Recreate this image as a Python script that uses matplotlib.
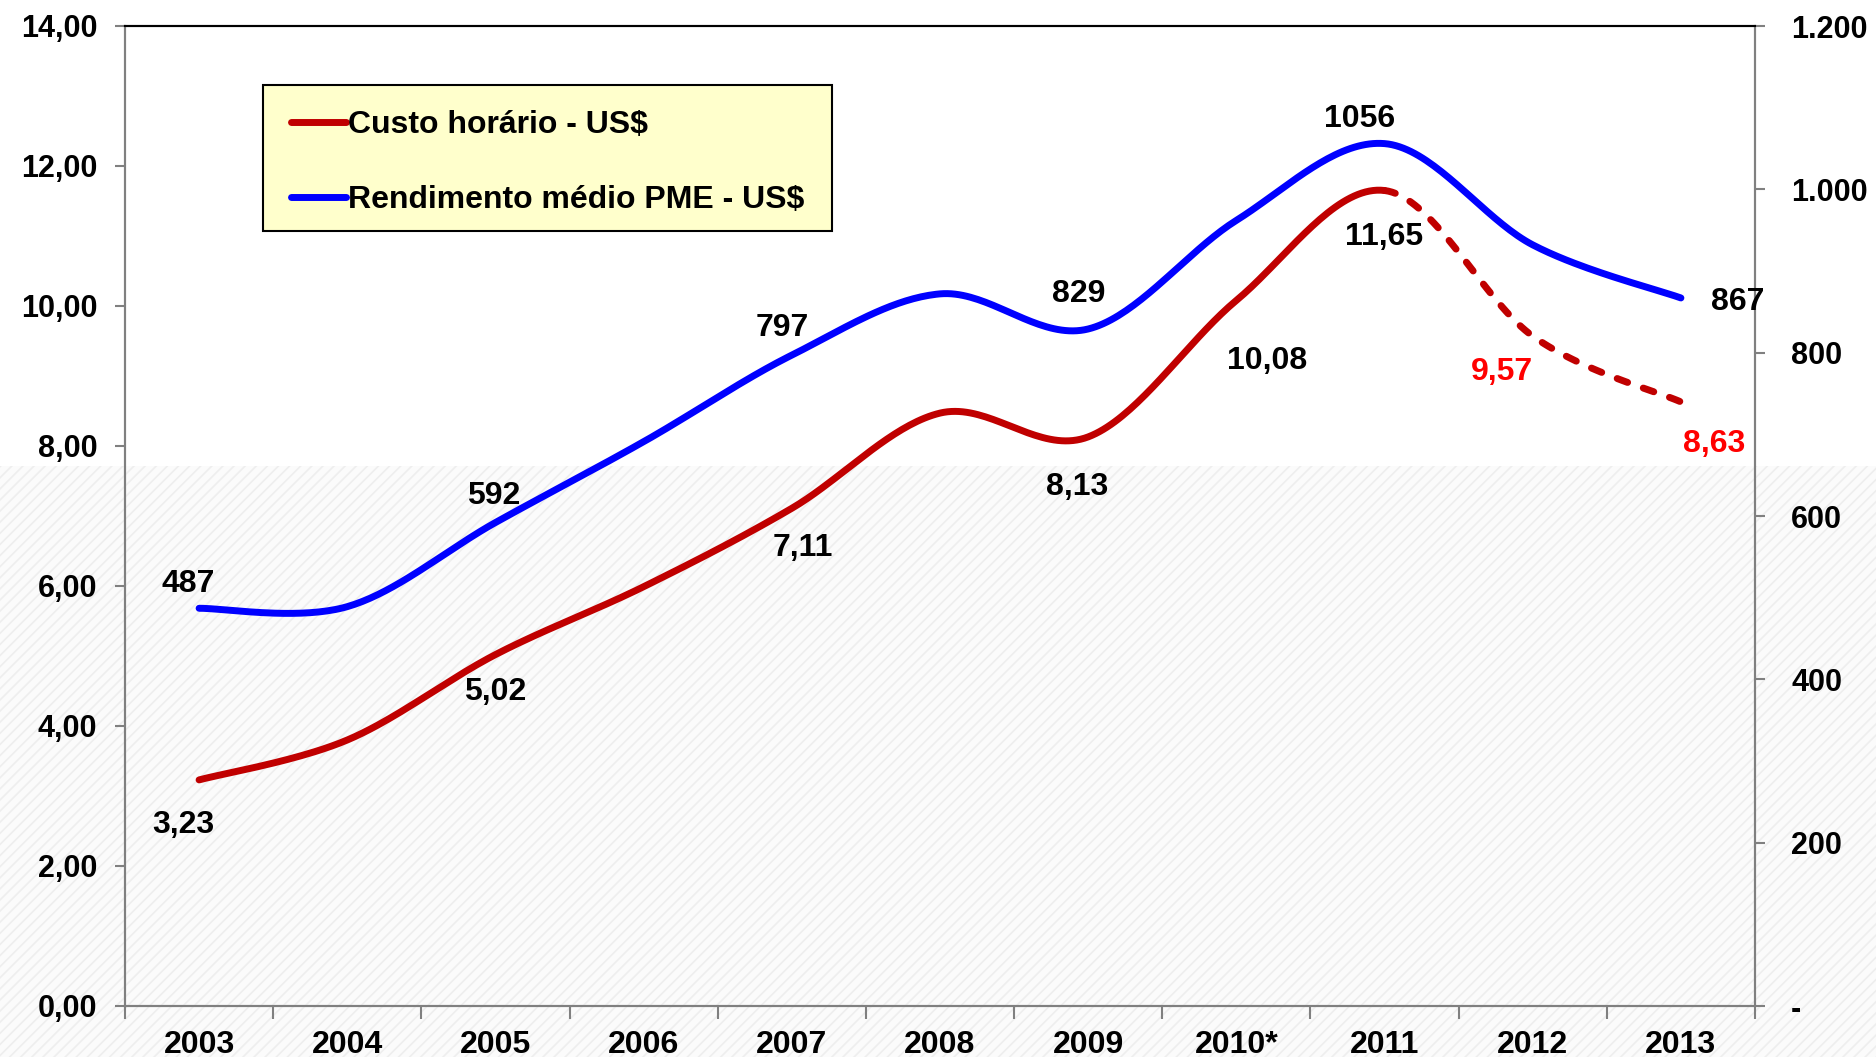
import numpy as np
import matplotlib
matplotlib.use('Agg')
import matplotlib.pyplot as plt
from matplotlib.patches import Rectangle
from matplotlib.lines import Line2D
from matplotlib.ticker import FixedLocator, NullFormatter

plt.rcParams['font.family'] = ['Liberation Sans', 'DejaVu Sans']
plt.rcParams['font.weight'] = 'bold'
plt.rcParams['hatch.linewidth'] = 1.2

# --- data ---
years = ['2003', '2004', '2005', '2006', '2007', '2008', '2009',
         '2010*', '2011', '2012', '2013']
custo_horario = [3.23, 3.80, 5.02, 5.99, 7.11, 8.47, 8.13, 10.08, 11.65, 9.57, 8.63]
rendimento_pme = [487, 489, 592, 691, 797, 872, 829, 962, 1056, 932, 867]

# which points carry a value label, and where (offset in px from the point)
custo_labels = {0: (-16, -45), 2: (0, -37), 4: (11, -40), 6: (-11, -50),
                7: (31, -61), 8: (0, -46), 9: (-31, -36), 10: (33, -42)}
custo_label_red = {9, 10}
rend_labels = {0: (-11, 24), 2: (-2, 27), 4: (-10, 27), 6: (-9, 35),
               8: (-25, 25), 10: (57, -4)}

RED = '#C00000'
BLUE = '#0000FF'
AXIS_GRAY = '#808080'


def smooth(xs, ys, n=40):
    """Bezier smoothing through every point (Excel-style smoothed line)."""
    pts = np.column_stack([xs, ys]).astype(float)
    p = np.vstack([pts[0], pts, pts[-1]])
    t = np.linspace(0, 1, n)[:, None]
    out = []
    for i in range(len(pts) - 1):
        p0, p1, p2, p3 = p[i], p[i + 1], p[i + 2], p[i + 3]
        c1 = p1 + (p2 - p0) / 6
        c2 = p2 - (p3 - p1) / 6
        seg = ((1 - t) ** 3) * p1 + 3 * ((1 - t) ** 2) * t * c1 \
            + 3 * (1 - t) * t ** 2 * c2 + t ** 3 * p2
        out.append(seg if i == 0 else seg[1:])
    return np.vstack(out), n


fig = plt.figure(figsize=(18.76, 10.57), dpi=100)
fig.patch.set_facecolor('white')

# faint diagonal texture on the lower part of the slide
bg = Rectangle((0, 0), 1, 1 - 466 / 1057, transform=fig.transFigure,
               facecolor='#fbfbfb', edgecolor='#eeeeee', hatch='///',
               linewidth=0, zorder=-5)
fig.patches.append(bg)

ax = fig.add_axes([125 / 1876, 1 - 1006 / 1057, 1630 / 1876, 980 / 1057])
ax.patch.set_alpha(0)
ax2 = ax.twinx()
ax2.patch.set_alpha(0)

x = np.arange(len(years))

# custo horario: solid up to 2011, dashed afterwards
curve, n = smooth(x, custo_horario)
split = 8 * (n - 1)
ax.plot(curve[:split + 1, 0], curve[:split + 1, 1], color=RED, lw=5,
        solid_capstyle='round', zorder=3)
ax.plot(curve[split:, 0], curve[split:, 1], color=RED, lw=5,
        dashes=(1.6, 2.4), dash_capstyle='round', zorder=3)

curve2, _ = smooth(x, rendimento_pme)
ax2.plot(curve2[:, 0], curve2[:, 1], color=BLUE, lw=5,
         solid_capstyle='round', zorder=3)

for i, (dx, dy) in custo_labels.items():
    ax.annotate(f'{custo_horario[i]:.2f}'.replace('.', ','),
                (x[i], custo_horario[i]), xytext=(dx, dy),
                textcoords='offset pixels', ha='center', va='center',
                fontsize=23, fontweight='bold',
                color='#FF0000' if i in custo_label_red else 'black')

for i, (dx, dy) in rend_labels.items():
    ax2.annotate(f'{rendimento_pme[i]}', (x[i], rendimento_pme[i]),
                 xytext=(dx, dy), textcoords='offset pixels',
                 ha='center', va='center', fontsize=23, fontweight='bold',
                 color='black')

# axes limits and ticks
ax.set_xlim(-0.5, len(years) - 0.5)
ax.set_ylim(0, 14)
ax2.set_ylim(0, 1200)

ax.set_yticks(np.arange(0, 15, 2))
ax.set_yticklabels([f'{v:.2f}'.replace('.', ',') for v in np.arange(0, 15, 2)])
ax2.set_yticks(np.arange(0, 1201, 200))
ax2.set_yticklabels(['-', '200', '400', '600', '800', '1.000', '1.200'])

ax.set_xticks(x)
ax.set_xticklabels(years)
ax.xaxis.set_minor_locator(FixedLocator(np.arange(-0.5, len(years), 1)))
ax.xaxis.set_minor_formatter(NullFormatter())
ax.tick_params(axis='x', which='major', length=0, pad=17, labelsize=23)
ax.tick_params(axis='x', which='minor', length=9, width=1.5,
               color=AXIS_GRAY, direction='out')
ax.tick_params(axis='y', length=7, width=1.5, color=AXIS_GRAY,
               direction='out', pad=13, labelsize=22)
ax2.tick_params(axis='y', length=7, width=1.5, color=AXIS_GRAY,
                direction='out', pad=19, labelsize=22)
for lab in ax.get_xticklabels() + ax.get_yticklabels() + ax2.get_yticklabels():
    lab.set_fontweight('bold')

for a in (ax, ax2):
    for side in ('left', 'right', 'bottom'):
        a.spines[side].set_color(AXIS_GRAY)
        a.spines[side].set_linewidth(1.5)
    a.spines['top'].set_color('black')
    a.spines['top'].set_linewidth(1.5)

# legend: frame drawn separately so its size is fixed
frame = Rectangle((138 / 1630, 775 / 980), 569 / 1630, 146 / 980,
                  transform=ax2.transAxes, facecolor='#FFFFCC',
                  edgecolor='black', linewidth=1.5, zorder=4)
ax2.add_patch(frame)
handles = [Line2D([], [], color=RED, lw=5, solid_capstyle='round'),
           Line2D([], [], color=BLUE, lw=5, solid_capstyle='round')]
leg = ax2.legend(handles, ['Custo horário - US$', 'Rendimento médio PME - US$'],
                 loc='upper left', bbox_to_anchor=(166 / 1630, 896 / 980),
                 borderaxespad=0, borderpad=0, frameon=False,
                 prop={'size': 23, 'weight': 'bold'}, handlelength=1.72,
                 handletextpad=0.05, labelspacing=1.42)
leg.set_zorder(5)

fig.savefig('out.png', dpi=100, facecolor=fig.get_facecolor())
